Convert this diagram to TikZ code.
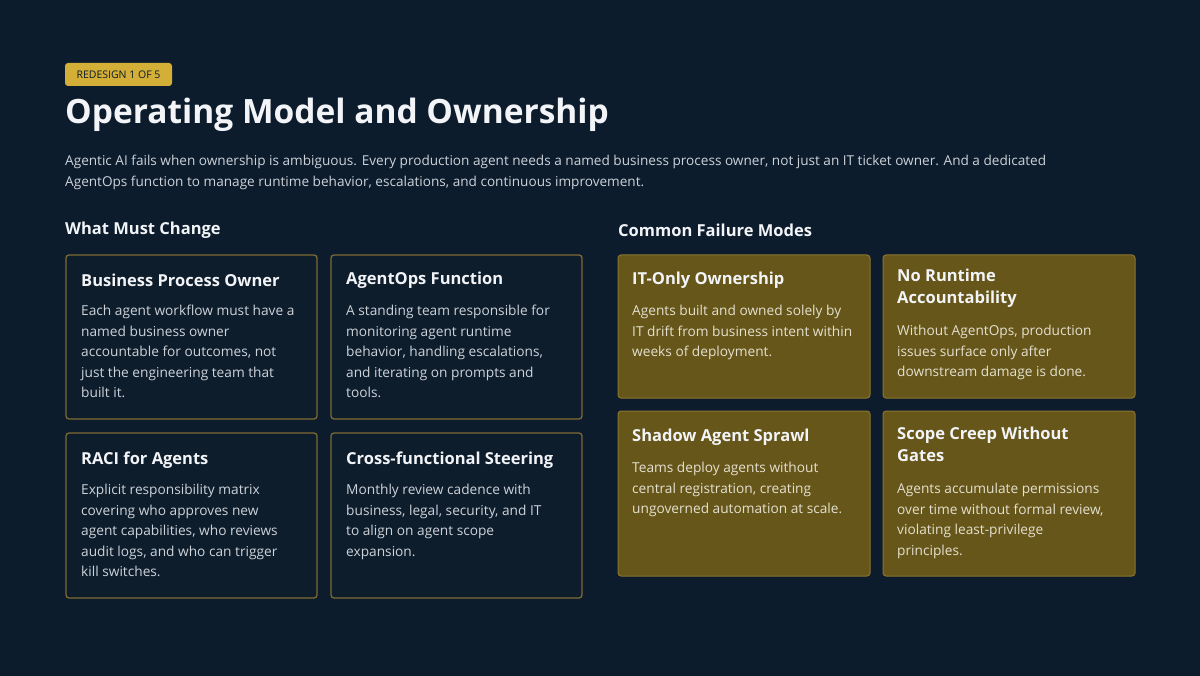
\documentclass[tikz,border=0pt]{standalone}
\usepackage{fontspec}
\setmainfont{Open Sans}
\definecolor{bg}{HTML}{0C1C2C}
\definecolor{badge}{HTML}{D4AF37}
\definecolor{lbox}{HTML}{0E1D2C}
\definecolor{lborder}{HTML}{7D6A33}
\definecolor{rbox}{HTML}{665619}
\definecolor{rborder}{HTML}{8A7530}
\definecolor{txt}{HTML}{F2F4F7}
\definecolor{body}{HTML}{CDD2D9}
\definecolor{rbody}{HTML}{E4E0D0}
\begin{document}
\begin{tikzpicture}[x=1pt,y=-1pt,
  ttl/.style={anchor=west,text=txt,font=\fontsize{16.5}{19}\selectfont\bfseries,align=left},
  bdy/.style={anchor=north west,font=\fontsize{13.7}{20.5}\selectfont,align=left,inner sep=0pt},
  lcard/.style={draw=lborder,fill=lbox,line width=1.3pt,rounded corners=3pt},
  rcard/.style={draw=rborder,fill=rbox,line width=1pt,rounded corners=3pt}]
\fill[bg] (0,0) rectangle (1200,676);
\useasboundingbox (0,0) rectangle (1200,676);
\fill[badge,rounded corners=3pt] (65,63) rectangle (172,86);
\node[anchor=center,font=\fontsize{10.5}{12}\selectfont,text=bg] (badge) at (118.5,75) {REDESIGN 1 OF 5};
\node[anchor=west,inner sep=0pt,text=txt,font=\fontsize{33.5}{38}\selectfont\bfseries] (title) at (65,115) {Operating Model and Ownership};
\node[anchor=north west,inner sep=0pt,text=body,align=left,font=\fontsize{13.6}{21}\selectfont] (intro) at (65,155) {Agentic AI fails when ownership is ambiguous. Every production agent needs a named business process owner, not just an IT ticket owner. And a dedicated\\AgentOps function to manage runtime behavior, escalations, and continuous improvement.};
\node[anchor=west,inner sep=0pt,text=txt,font=\fontsize{16.5}{19}\selectfont\bfseries] (h1) at (65,230) {What Must Change};
\node[anchor=west,inner sep=0pt,text=txt,font=\fontsize{16.5}{19}\selectfont\bfseries] (h2) at (618,230) {Common Failure Modes};
% left cards
\draw[lcard] (66,255) rectangle (317,419);
\draw[lcard] (331,255) rectangle (582,419);
\draw[lcard] (66,433) rectangle (317,598);
\draw[lcard] (331,433) rectangle (582,598);
\node[ttl,inner sep=0pt] (t1) at (81,280) {Business Process Owner};
\node[bdy,text=body] (b1) at (81,305) {Each agent workflow must have a\\named business owner\\accountable for outcomes, not\\just the engineering team that\\built it.};
\node[ttl,inner sep=0pt] (t2) at (346,280) {AgentOps Function};
\node[bdy,text=body] (b2) at (346,305) {A standing team responsible for\\monitoring agent runtime\\behavior, handling escalations,\\and iterating on prompts and\\tools.};
\node[ttl,inner sep=0pt] (t3) at (81,460) {RACI for Agents};
\node[bdy,text=body] (b3) at (81,484) {Explicit responsibility matrix\\covering who approves new\\agent capabilities, who reviews\\audit logs, and who can trigger\\kill switches.};
\node[ttl,inner sep=0pt] (t4) at (346,460) {Cross-functional Steering};
\node[bdy,text=body] (b4) at (346,484) {Monthly review cadence with\\business, legal, security, and IT\\to align on agent scope\\expansion.};
% right cards
\draw[rcard] (618,255) rectangle (870,398);
\draw[rcard] (883,255) rectangle (1135,398);
\draw[rcard] (618,411) rectangle (870,576);
\draw[rcard] (883,411) rectangle (1135,576);
\node[ttl,inner sep=0pt] (t5) at (632,280) {IT-Only Ownership};
\node[bdy,text=rbody] (b5) at (632,305) {Agents built and owned solely by\\IT drift from business intent within\\weeks of deployment.};
\node[ttl,inner sep=0pt,anchor=north west,font=\fontsize{16.5}{22}\selectfont\bfseries] (t6) at (897,269) {No Runtime\\Accountability};
\node[bdy,text=rbody] (b6) at (897,325) {Without AgentOps, production\\issues surface only after\\downstream damage is done.};
\node[ttl,inner sep=0pt] (t7) at (632,437) {Shadow Agent Sprawl};
\node[bdy,text=rbody] (b7) at (632,462) {Teams deploy agents without\\central registration, creating\\ungoverned automation at scale.};
\node[ttl,inner sep=0pt,anchor=north west,font=\fontsize{16.5}{22}\selectfont\bfseries] (t8) at (897,427) {Scope Creep Without\\Gates};
\node[bdy,text=rbody] (b8) at (897,483) {Agents accumulate permissions\\over time without formal review,\\violating least-privilege\\principles.};
\end{tikzpicture}
\end{document}
